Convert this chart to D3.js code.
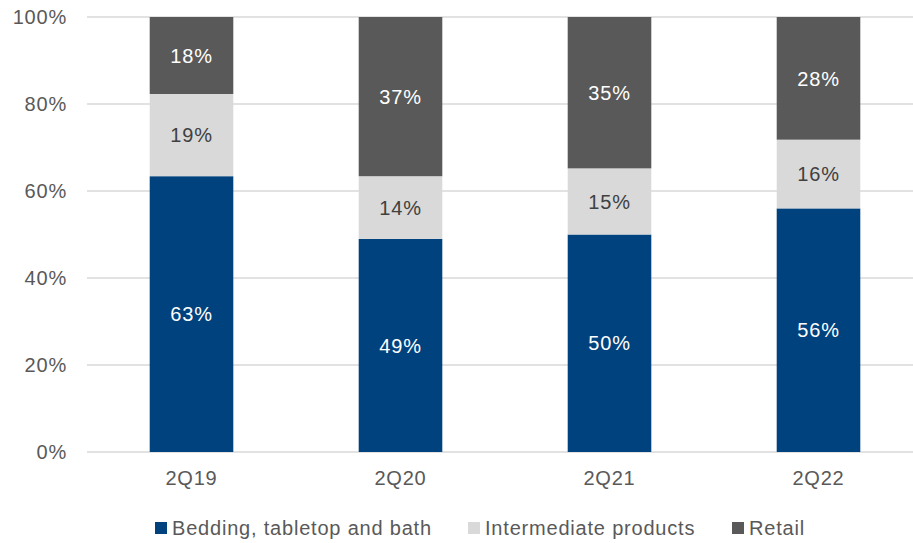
<!DOCTYPE html>
<html>
<head>
<meta charset="utf-8">
<script src="https://cdn.jsdelivr.net/npm/d3@7"></script>
<style>
  body { margin: 0; background: #fff; }
  svg { display: block; font-family: "Liberation Sans", Arial, sans-serif; }
  text { letter-spacing: 0.8px; }
</style>
</head>
<body>
<svg id="chart"></svg>
<script>
// data
const quarters = ["2Q19", "2Q20", "2Q21", "2Q22"];
const bedding = [63.4, 49.0, 50.0, 56.0];
const intermediate = [18.9, 14.4, 15.2, 15.8];
const retail = [17.7, 36.6, 34.8, 28.2];
const seriesNames = ["Bedding, tabletop and bath", "Intermediate products", "Retail"];
const yTicks = [0, 20, 40, 60, 80, 100];

const W = 913, H = 543;
const colors = ["#00427e", "#d9d9d9", "#595959"];
const labelColors = ["#ffffff", "#404040", "#ffffff"];

const svg = d3.select("#chart").attr("width", W).attr("height", H);

const x = d3.scaleBand()
    .domain(quarters)
    .range([87, 923])
    .paddingInner(0.6)
    .paddingOuter(0.3);

const y = d3.scaleLinear()
    .domain([0, 100])
    .range([452, 17]);

const rows = quarters.map((q, i) => ({
    quarter: q,
    s0: bedding[i],
    s1: intermediate[i],
    s2: retail[i]
}));

const stack = d3.stack().keys(["s0", "s1", "s2"]);
const layers = stack(rows);

// gridlines
svg.append("g")
    .selectAll("line")
    .data(yTicks)
    .join("line")
    .attr("x1", 87)
    .attr("x2", W)
    .attr("y1", d => y(d))
    .attr("y2", d => y(d))
    .attr("stroke", "#d9d9d9")
    .attr("stroke-width", d => d === 0 ? 1.5 : 1.3);

// y labels
svg.append("g")
    .selectAll("text")
    .data(yTicks)
    .join("text")
    .attr("x", 67)
    .attr("y", d => y(d))
    .attr("dy", "0.36em")
    .attr("text-anchor", "end")
    .attr("fill", "#595959")
    .attr("font-size", 20)
    .text(d => d + "%");

// bars
const groups = svg.append("g")
    .selectAll("g")
    .data(layers)
    .join("g")
    .attr("fill", (d, i) => colors[i]);

groups.selectAll("rect")
    .data(d => d)
    .join("rect")
    .attr("x", d => x(d.data.quarter))
    .attr("width", x.bandwidth())
    .attr("y", d => y(d[1]))
    .attr("height", d => y(d[0]) - y(d[1]));

// segment labels
layers.forEach((layer, i) => {
    svg.append("g")
        .selectAll("text")
        .data(layer)
        .join("text")
        .attr("x", d => x(d.data.quarter) + x.bandwidth() / 2)
        .attr("y", d => y((d[0] + d[1]) / 2))
        .attr("dy", "0.36em")
        .attr("text-anchor", "middle")
        .attr("fill", labelColors[i])
        .attr("font-size", 20)
        .text(d => Math.round(d[1] - d[0]) + "%");
});

// x labels
svg.append("g")
    .selectAll("text")
    .data(quarters)
    .join("text")
    .attr("x", d => x(d) + x.bandwidth() / 2)
    .attr("y", 485)
    .attr("text-anchor", "middle")
    .attr("fill", "#595959")
    .attr("font-size", 20)
    .text(d => d);

// legend
const legendX = [155, 468, 732];
const legend = svg.append("g")
    .selectAll("g")
    .data(seriesNames)
    .join("g")
    .attr("transform", (d, i) => `translate(${legendX[i]}, 528)`);

legend.append("rect")
    .attr("x", 0)
    .attr("y", -6)
    .attr("width", 12)
    .attr("height", 12)
    .attr("fill", (d, i) => colors[i]);

legend.append("text")
    .attr("x", 17)
    .attr("y", 0)
    .attr("dy", "0.36em")
    .attr("fill", "#595959")
    .attr("font-size", 20)
    .text(d => d);
</script>
</body>
</html>
